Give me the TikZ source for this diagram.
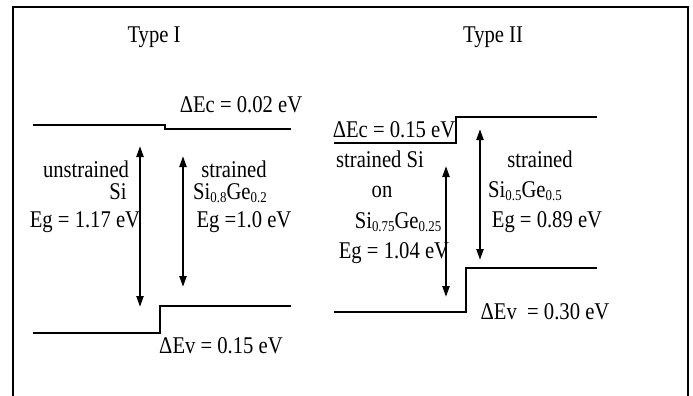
\documentclass[tikz,border=0pt]{standalone}
\usepackage{fontspec}
\setmainfont[FakeStretch=0.86]{Liberation Serif}
\usepackage{tikz}
\usetikzlibrary{arrows.meta}
\newcommand{\lowidx}[1]{\raisebox{-0.3ex}{\fontsize{15}{15}\selectfont #1}}
\tikzset{
    lbl/.style={anchor=base, inner sep=0pt, font=\fontsize{24}{27}\selectfont},
    level/.style={line width=1.5pt, black},
    gap/.style={{Triangle[length=11pt, width=7pt]}-{Triangle[length=11pt, width=7pt]}, line width=2.2pt},
}

\begin{document}
\begin{tikzpicture}[x=1pt, y=-1pt]
    \useasboundingbox (0,0) rectangle (693,396);

    % frame
    \draw [line width=2pt] (13,396) -- (13,7) -- (688,7) -- (688,396);

    % Type I
    \node [lbl] (t1) at (154,43) {Type I};
    \draw [level] (33,125) -- (165,125) -- (165,129) -- (291,129);
    \draw [level] (33,333) -- (160,333) -- (160,306) -- (291,306);
    \node [lbl] (dec1) at (241,112) {ΔEc = 0.02 eV};
    \node [lbl] (dev1) at (221,353) {ΔEv = 0.15 eV};

    \node [lbl] (us1) at (86,177) {unstrained};
    \node [lbl] (us2) at (118,199) {Si};
    \node [lbl] (us3) at (85,227) {Eg = 1.17 eV};
    \node [lbl] (sg1) at (234,177) {strained};
    \node [lbl] (sg2) at (230,199) {Si\lowidx{0.8}Ge\lowidx{0.2}};
    \node [lbl] (sg3) at (244,227) {Eg =1.0 eV};

    \coordinate (a1t) at (140,146);
    \coordinate (a1b) at (140,307);
    \coordinate (a2t) at (183,156);
    \coordinate (a2b) at (183,287);
    \draw [gap] (a1t) -- (a1b);
    \draw [gap] (a2t) -- (a2b);

    % Type II
    \node [lbl] (t2) at (493,43) {Type II};
    \draw [level] (334,143) -- (456,143) -- (456,117) -- (597,117);
    \draw [level] (334,312) -- (466,312) -- (466,268) -- (597,268);
    \node [lbl] (dec2) at (394,137) {ΔEc = 0.15 eV};
    \node [lbl] (dev2) at (545,319) {ΔEv \ = 0.30 eV};

    \node [lbl] (ss1) at (380,167) {strained Si};
    \node [lbl] (ss2) at (382,197) {on};
    \node [lbl] (ss3) at (398,228) {Si\lowidx{0.75}Ge\lowidx{0.25}};
    \node [lbl] (ss4) at (394,258) {Eg = 1.04 eV};
    \node [lbl] (sh1) at (540,167) {strained};
    \node [lbl] (sh2) at (525,197) {Si\lowidx{0.5}Ge\lowidx{0.5}};
    \node [lbl] (sh3) at (547,227) {Eg = 0.89 eV};

    \coordinate (a3t) at (446,166);
    \coordinate (a3b) at (446,297);
    \coordinate (a4t) at (480,129);
    \coordinate (a4b) at (480,260);
    \draw [gap] (a3t) -- (a3b);
    \draw [gap] (a4t) -- (a4b);

\end{tikzpicture}
\end{document}
